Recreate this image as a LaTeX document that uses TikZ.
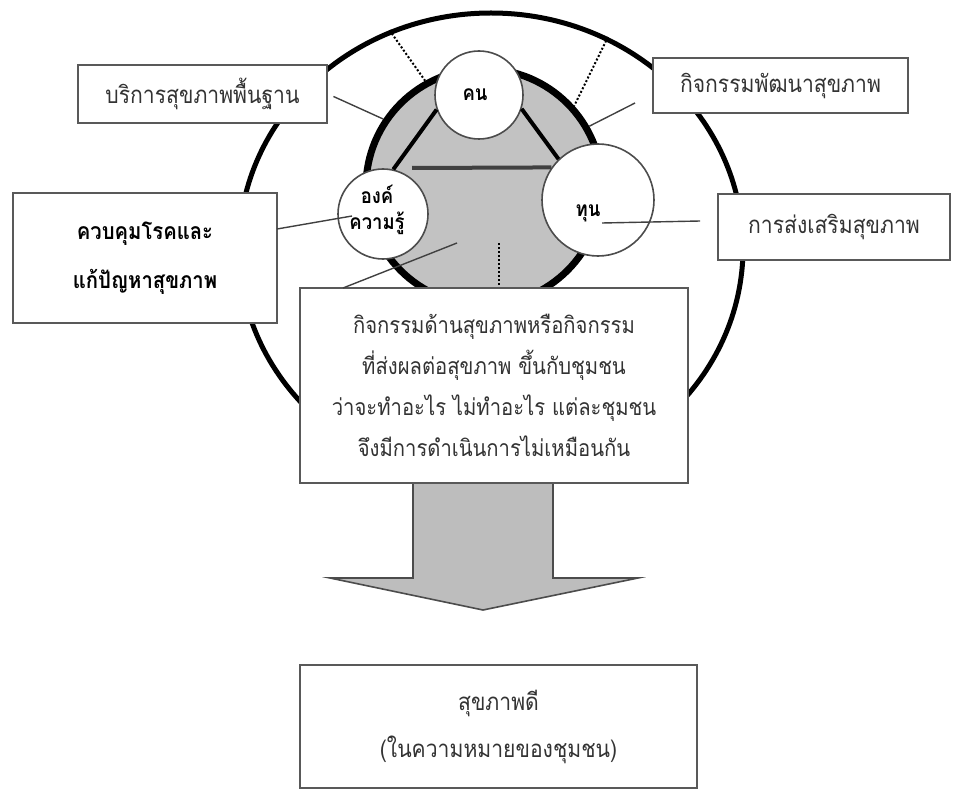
\documentclass[tikz,border=0pt]{standalone}
\usepackage{fontspec}
\newfontfamily\thaifont[Script=Thai,FakeStretch=0.88]{Loma}
\usetikzlibrary{shapes.geometric,positioning}

\begin{document}
\begin{tikzpicture}[x=0.5pt,y=-0.5pt,
	box/.style={rectangle,draw=black!65,line width=1pt,fill=white,inner sep=0pt,align=center,text=black!80,font=\thaifont\fontsize{12}{20.5}\selectfont},
	ball/.style={circle,draw=black!70,line width=0.8pt,fill=white,inner sep=0pt},
	conn/.style={draw=black!75,line width=0.7pt},
	dots/.style={draw=black,line width=1pt,dash pattern=on 1pt off 1pt},
	side/.style={draw=black,line width=2pt}]
			\useasboundingbox (0,0) rectangle (957,791);
			\tikzstyle{label font}=[font=\thaifont\bfseries\fontsize{10.5}{13}\selectfont,text=black,align=center]
			% rings
			\node[ellipse,draw=black,line width=2.5pt,minimum width=252pt,minimum height=235pt,inner sep=0pt] (outer) at (491,248) {};
			\node[circle,draw=black,line width=3.5pt,fill=black!24,minimum size=118pt,inner sep=0pt] (core) at (484,187) {};
			\path
			(outer.115) edge[dots] (core.119)
			(outer.61) edge[dots] (core.42);
			% three parts
			\node[ball,minimum size=44pt,label={[label font,xshift=-2pt,yshift=0pt]center:คน}] (kon) at (479,95) {};
			\node[ball,minimum size=45pt,label={[label font,xshift=-3pt,yshift=2pt]center:องค์\\ความรู้}] (ong) at (383,214) {};
			\node[ball,minimum size=56pt,label={[label font,xshift=-5pt,yshift=-6.5pt]center:ทุน}] (tun) at (598,200) {};
			\coordinate (base) at (412,168);
			\path
			(kon.199) edge[side] (ong.77)
			(kon.342) edge[side] (tun.134)
			(base) edge[side,draw=black!75] (tun.145);
			% boxes
			\node[box,minimum width=124.5pt,minimum height=29pt] (basic) at (202.5,94) {บริการสุขภาพพื้นฐาน};
			\node[box,minimum width=127.5pt,minimum height=27.5pt] (develop) at (780.5,85.5) {กิจกรรมพัฒนาสุขภาพ};
			\node[box,minimum width=132pt,minimum height=65pt,text=black,font=\thaifont\bfseries\fontsize{11.5}{24.5}\selectfont] (control) at (145,258) {ควบคุมโรคและ\\แก้ปัญหาสุขภาพ};
			\node[box,minimum width=116pt,minimum height=33pt] (promote) at (834,227) {การส่งเสริมสุขภาพ};
			\node[box,minimum width=194pt,minimum height=97.5pt,font=\thaifont\fontsize{11.5}{20.5}\selectfont] (activity) at (494,385.5) {กิจกรรมด้านสุขภาพหรือกิจกรรม\\ที่ส่งผลต่อสุขภาพ ขึ้นกับชุมชน\\ว่าจะทำอะไร ไม่ทำอะไร แต่ละชุมชน\\จึงมีการดำเนินการไม่เหมือนกัน};
			\node[box,minimum width=198.5pt,minimum height=61.5pt,font=\thaifont\fontsize{12}{23.5}\selectfont] (result) at (498.5,726.5) {สุขภาพดี\\(ในความหมายของชุมชน)};
			% connectors
			\coordinate (dev-s) at (635,103);
			\coordinate (ctl-s) at (277,229);
			\coordinate (ctl-e) at (352,216);
			\coordinate (pro-s) at (700,221);
			\coordinate (pro-e) at (602,223);
			\coordinate (act-s) at (343,288);
			\coordinate (act-e) at (457,243);
			\coordinate (mid) at (499,243);
			\path
			(basic.east) edge[conn,shorten <=3pt] (core.146)
			(dev-s) edge[conn] (core.30)
			(ctl-s) edge[conn] (ctl-e)
			(pro-s) edge[conn] (pro-e)
			(act-s) edge[conn] (act-e)
			(mid) edge[dots] (mid |- activity.north);
			% arrow
			\draw[draw=black!70,line width=0.8pt,fill=black!26] (activity.south -| 413,0) -- (413,578) -- (330,578) -- (483,610) -- (638,578) -- (553,578) -- (activity.south -| 553,0);
		\end{tikzpicture}
\end{document}
